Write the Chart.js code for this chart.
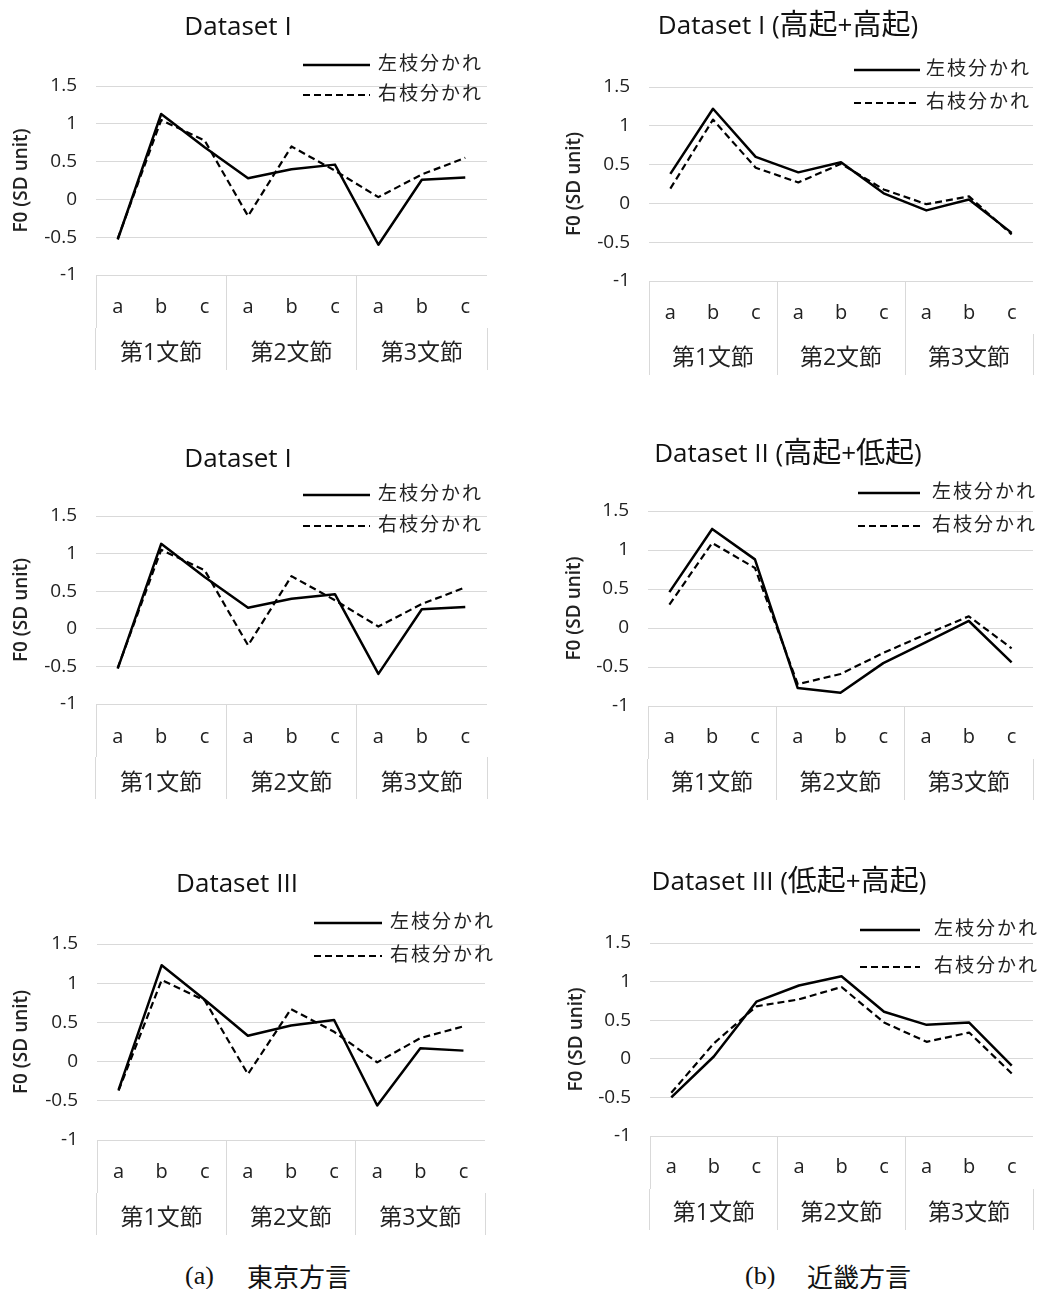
<!DOCTYPE html>
<html>
<head>
<meta charset="utf-8">
<script src="https://cdn.jsdelivr.net/npm/chart.js@4.4.0/dist/chart.umd.min.js"></script>
<style>
html, body { margin: 0; padding: 0; background: #fff; }
#page { position: relative; width: 1047px; height: 1289px; overflow: hidden; background: #fff; }
canvas { position: absolute; }
.cap { position: absolute; font-size: 26px; line-height: 30px; color: #111; white-space: nowrap; }
.lat { font-family: "Liberation Serif", "Times New Roman", serif; }
.cjk { font-family: "Noto Sans CJK JP", sans-serif; }
</style>
</head>
<body>
<div id="page">
  <canvas id="c1" width="520" height="380" style="left:0px;top:0px"></canvas>
  <canvas id="c2" width="527" height="380" style="left:520px;top:0px"></canvas>
  <canvas id="c3" width="520" height="380" style="left:0px;top:430px"></canvas>
  <canvas id="c4" width="527" height="380" style="left:520px;top:430px"></canvas>
  <canvas id="c5" width="520" height="390" style="left:0px;top:860px"></canvas>
  <canvas id="c6" width="527" height="390" style="left:520px;top:860px"></canvas>
  <div class="cap lat" style="left:185px;top:1261px">(a)</div>
  <div class="cap cjk" style="left:247px;top:1261px">東京方言</div>
  <div class="cap lat" style="left:745px;top:1261px">(b)</div>
  <div class="cap cjk" style="left:807px;top:1261px">近畿方言</div>
</div>
<script>
// ---------------- data ----------------
const categories = ['a', 'b', 'c', 'a', 'b', 'c', 'a', 'b', 'c'];
const groupLabels = ['第1文節', '第2文節', '第3文節'];
const seriesNames = ['左枝分かれ', '右枝分かれ'];
const yTickValues = [-1, -0.5, 0, 0.5, 1, 1.5];
const yTickLabels = ['-1', '-0.5', '0', '0.5', '1', '1.5'];
const yAxisTitle = 'F0 (SD unit)';
const chartTitles = ['Dataset I', 'Dataset I (高起+高起)', 'Dataset I', 'Dataset II (高起+低起)', 'Dataset III', 'Dataset III (低起+高起)'];

// (a) Tokyo dialect
const tokyoI_left    = [-0.53, 1.13, 0.69, 0.28, 0.40, 0.46, -0.60, 0.26, 0.29];
const tokyoI_right   = [-0.52, 1.05, 0.78, -0.22, 0.70, 0.38, 0.03, 0.33, 0.55];
const tokyoIII_left  = [-0.36, 1.23, 0.79, 0.33, 0.46, 0.53, -0.56, 0.17, 0.14];
const tokyoIII_right = [-0.37, 1.04, 0.78, -0.16, 0.67, 0.38, -0.01, 0.30, 0.45];
// (b) Kinki dialect
const kinkiI_left    = [0.38, 1.22, 0.60, 0.40, 0.53, 0.13, -0.09, 0.05, -0.38];
const kinkiI_right   = [0.19, 1.08, 0.46, 0.27, 0.51, 0.18, -0.01, 0.09, -0.40];
const kinkiII_left   = [0.46, 1.27, 0.88, -0.77, -0.83, -0.45, -0.18, 0.09, -0.44];
const kinkiII_right  = [0.30, 1.09, 0.77, -0.72, -0.59, -0.32, -0.08, 0.15, -0.26];
const kinkiIII_left  = [-0.50, 0.03, 0.74, 0.95, 1.07, 0.61, 0.44, 0.47, -0.09];
const kinkiIII_right = [-0.44, 0.20, 0.68, 0.77, 0.93, 0.47, 0.22, 0.34, -0.19];

// ---------------- styles / layout ----------------
const FAMILY = '"Open Sans", "Noto Sans CJK JP", sans-serif';
const GRID = '#d9d9d9';
const TEXT = '#222222';

const charts = [
  { id: 'c1', w: 520, h: 380, title: chartTitles[0], left: tokyoI_left, right: tokyoI_right,
    plotTop: 86, plotBottom: 275, plotLeft: 96, plotRight: 487, row1Bottom: 328, row1Label: 307, row2Label: 353, bottom: 370,
    titleX: 238, titleY: 28, legX1: 303, legX2: 370, legTextX: 378, legY: [65, 95], yTitleX: 22 },
  { id: 'c2', w: 527, h: 380, title: chartTitles[1], left: kinkiI_left, right: kinkiI_right,
    plotTop: 87, plotBottom: 281, plotLeft: 129, plotRight: 513, row1Bottom: 334, row1Label: 313, row2Label: 358, bottom: 375,
    titleX: 268, titleY: 27, legX1: 334, legX2: 400, legTextX: 406, legY: [70, 103], yTitleX: 55 },
  { id: 'c3', w: 520, h: 380, title: chartTitles[2], left: tokyoI_left, right: tokyoI_right,
    plotTop: 86, plotBottom: 274, plotLeft: 96, plotRight: 487, row1Bottom: 327, row1Label: 307, row2Label: 353, bottom: 369,
    titleX: 238, titleY: 30, legX1: 303, legX2: 370, legTextX: 378, legY: [65, 96], yTitleX: 22 },
  { id: 'c4', w: 527, h: 380, title: chartTitles[3], left: kinkiII_left, right: kinkiII_right,
    plotTop: 81, plotBottom: 276, plotLeft: 128, plotRight: 513, row1Bottom: 329, row1Label: 307, row2Label: 353, bottom: 370,
    titleX: 268, titleY: 25, legX1: 338, legX2: 400, legTextX: 412, legY: [63, 96], yTitleX: 55 },
  { id: 'c5', w: 520, h: 390, title: chartTitles[4], left: tokyoIII_left, right: tokyoIII_right,
    plotTop: 84, plotBottom: 280, plotLeft: 97, plotRight: 485, row1Bottom: 333, row1Label: 312, row2Label: 358, bottom: 375,
    titleX: 237, titleY: 25, legX1: 314, legX2: 382, legTextX: 390, legY: [63, 96], yTitleX: 22 },
  { id: 'c6', w: 527, h: 390, title: chartTitles[5], left: kinkiIII_left, right: kinkiIII_right,
    plotTop: 83, plotBottom: 276, plotLeft: 130, plotRight: 513, row1Bottom: 329, row1Label: 307, row2Label: 353, bottom: 370,
    titleX: 269, titleY: 23, legX1: 340, legX2: 400, legTextX: 414, legY: [70, 107], yTitleX: 57 }
];

// split a title into latin / CJK runs so CJK can be drawn slightly larger (as in the original)
function titleRuns(text) {
  const runs = [];
  for (const ch of text) {
    const cjk = /[\u3000-\u9fff\uff00-\uffef]/.test(ch);
    const last = runs[runs.length - 1];
    if (last && last.cjk === cjk) last.s += ch; else runs.push({ s: ch, cjk });
  }
  return runs;
}

// title + excel-style legend drawn at fixed positions
const decorPlugin = {
  id: 'decor',
  afterDraw(chart, args, o) {
    const ctx = chart.ctx;
    ctx.save();
    ctx.fillStyle = '#111111';
    ctx.textBaseline = 'middle';
    ctx.textAlign = 'left';
    const runs = titleRuns(o.title);
    let total = 0;
    runs.forEach(r => {
      r.font = (r.cjk ? '29px ' : '26px ') + FAMILY;
      ctx.font = r.font;
      r.w = ctx.measureText(r.s).width;
      total += r.w;
    });
    let tx = o.titleX - total / 2;
    runs.forEach(r => {
      ctx.font = r.font;
      ctx.fillText(r.s, tx, o.titleY);
      tx += r.w;
    });
    ctx.font = '19px ' + FAMILY;
    if ('letterSpacing' in ctx) ctx.letterSpacing = '2px';
    chart.data.datasets.forEach((ds, i) => {
      const y = o.legY[i];
      ctx.strokeStyle = ds.borderColor;
      ctx.lineWidth = ds.borderWidth;
      ctx.setLineDash(ds.borderDash || []);
      ctx.beginPath();
      ctx.moveTo(o.legX1, y);
      ctx.lineTo(o.legX2, y);
      ctx.stroke();
      ctx.fillStyle = TEXT;
      ctx.fillText(ds.label, o.legTextX, y);
    });
    ctx.restore();
  }
};

function build(L) {
  const f1 = 20, f2 = 23;
  const pad1 = L.row1Label - L.row1Bottom - f1 * 1.2 / 2;
  const pad2 = L.row2Label - L.bottom - f2 * 1.2 / 2;
  new Chart(document.getElementById(L.id), {
    type: 'line',
    data: {
      labels: categories,
      datasets: [
        { label: seriesNames[0], data: L.left, borderColor: '#000', borderWidth: 2.5, borderDash: [],
          pointRadius: 0, pointHoverRadius: 0, tension: 0, fill: false, borderJoinStyle: 'round' },
        { label: seriesNames[1], data: L.right, borderColor: '#000', borderWidth: 2.2, borderDash: [7, 4],
          pointRadius: 0, pointHoverRadius: 0, tension: 0, fill: false, borderJoinStyle: 'round' }
      ]
    },
    options: {
      responsive: false,
      animation: false,
      events: [],
      layout: { padding: { top: L.plotTop, right: L.w - L.plotRight, bottom: L.h - L.bottom, left: 0 } },
      plugins: {
        legend: { display: false },
        title: { display: false },
        tooltip: { enabled: false },
        decor: { title: L.title, titleX: L.titleX, titleY: L.titleY, legX1: L.legX1, legX2: L.legX2, legTextX: L.legTextX, legY: L.legY }
      },
      scales: {
        x: {
          type: 'category', position: 'bottom', offset: true, weight: 0,
          grid: { offset: true, drawOnChartArea: false, drawTicks: true, tickLength: L.row1Bottom - L.plotBottom,
                  color: (c) => (c.index % 3 === 0 ? GRID : 'rgba(0,0,0,0)'), lineWidth: 1 },
          border: { display: false },
          ticks: { autoSkip: false, maxRotation: 0, minRotation: 0, padding: pad1, color: TEXT, font: { family: FAMILY, size: f1 } },
          afterFit: (s) => { s.height = L.row1Bottom - L.plotBottom; }
        },
        x2: {
          type: 'category', position: 'bottom', offset: true, weight: 1, labels: groupLabels,
          grid: { offset: true, drawOnChartArea: false, drawTicks: true, tickLength: L.bottom - L.row1Bottom, color: GRID, lineWidth: 1 },
          border: { display: false },
          ticks: { autoSkip: false, maxRotation: 0, minRotation: 0, padding: pad2, color: TEXT, font: { family: FAMILY, size: f2 } },
          afterFit: (s) => { s.height = L.bottom - L.row1Bottom; }
        },
        y: {
          min: yTickValues[0], max: yTickValues[yTickValues.length - 1],
          grid: { color: GRID, lineWidth: 1, drawTicks: false },
          border: { display: false },
          ticks: { stepSize: 0.5, padding: 19, color: TEXT, font: { family: FAMILY, size: 19 },
                   callback: (v) => { const i = yTickValues.indexOf(v); return i >= 0 ? yTickLabels[i] : ''; } },
          title: { display: true, text: yAxisTitle, color: TEXT, font: { family: FAMILY, size: 19, weight: '600' },
                   padding: { top: L.yTitleX - 19 * 1.2 / 2, bottom: 0 } },
          afterFit: (s) => { s.width = L.plotLeft; }
        }
      }
    },
    plugins: [decorPlugin]
  });
}

charts.forEach(build);
</script>
</body>
</html>
